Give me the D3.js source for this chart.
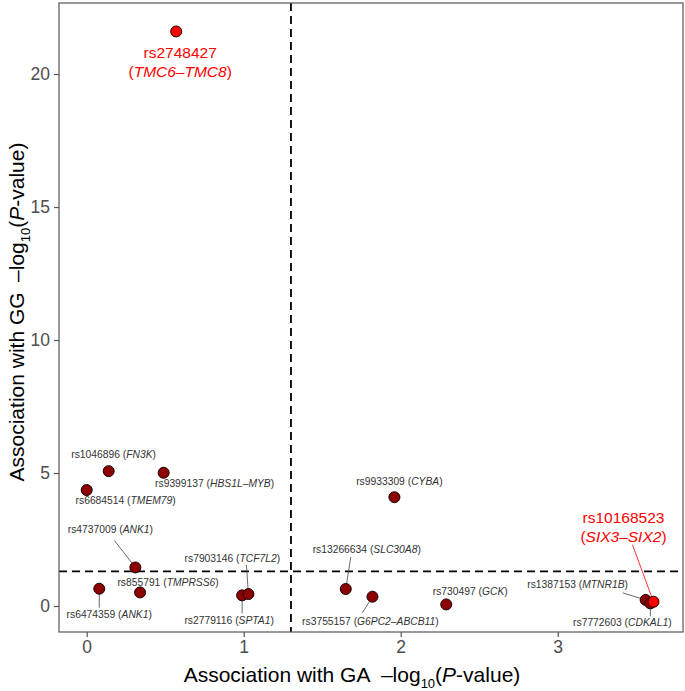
<!DOCTYPE html>
<html>
<head>
<meta charset="utf-8">
<script src="https://cdn.jsdelivr.net/npm/d3@7"></script>
<style>
  html, body { margin: 0; padding: 0; background: #fff; }
  svg { display: block; font-family: "Liberation Sans", Arial, Helvetica, sans-serif; }
</style>
</head>
<body>
<svg id="chart" width="685" height="691"></svg>
<script>
// variant data: -log10(P) for GA (x) and GG (y)
const snps = ['rs2748427', 'rs1046896', 'rs9399137', 'rs6684514', 'rs4737009', 'rs855791',
    'rs6474359', 'rs2779116', 'rs7903146', 'rs13266634', 'rs3755157', 'rs730497',
    'rs9933309', 'rs1387153', 'rs7772603', 'rs10168523'];
const genes = ['TMC6–TMC8', 'FN3K', 'HBS1L–MYB', 'TMEM79', 'ANK1', 'TMPRSS6',
    'ANK1', 'SPTA1', 'TCF7L2', 'SLC30A8', 'G6PC2–ABCB11', 'GCK',
    'CYBA', 'MTNR1B', 'CDKAL1', 'SIX3–SIX2'];
const gaLogP = [0.57, 0.14, 0.49, 0.0, 0.31, 0.34, 0.08, 0.99, 1.03, 1.65, 1.82, 2.29, 1.96, 3.56, 3.59, 3.61];
const ggLogP = [21.6, 5.07, 5.01, 4.36, 1.45, 0.51, 0.65, 0.40, 0.45, 0.64, 0.35, 0.06, 4.09, 0.23, 0.10, 0.16];
const highlighted = ['rs2748427', 'rs10168523'];
const threshold = -Math.log10(0.05);
const xTicks = [0, 1, 2, 3];
const yTicks = [0, 5, 10, 15, 20];

// label placement (pixel offsets from the point): text anchor and segment end
const labelLayout = [
    { dx: 4, dy: 27, sx: null, sy: null },
    { dx: 5, dy: -13, sx: null, sy: null },
    { dx: 51, dy: 14, sx: null, sy: null },
    { dx: 39, dy: 14, sx: null, sy: null },
    { dx: -25, dy: -34, sx: -21, sy: -27 },
    { dx: 28, dy: -6, sx: null, sy: null },
    { dx: 10, dy: 29, sx: 0, sy: 19 },
    { dx: -13, dy: 29, sx: 0, sy: 18 },
    { dx: -16, dy: -32, sx: -2, sy: -29 },
    { dx: 21, dy: -36, sx: 5, sy: -32 },
    { dx: -2, dy: 28, sx: -10, sy: 16 },
    { dx: 24, dy: -9, sx: null, sy: null },
    { dx: 5, dy: -12, sx: null, sy: null },
    { dx: -68, dy: -12, sx: -23, sy: -7 },
    { dx: -28, dy: 23, sx: 0, sy: 13 },
    { dx: -30, dy: -79, sx: -21, sy: -57 }
];

const data = snps.map((s, i) => ({
    snp: s, gene: genes[i], x: gaLogP[i], y: ggLogP[i],
    hi: highlighted.includes(s), lay: labelLayout[i]
}));

const svg = d3.select('#chart');
const panel = { left: 59, right: 683, top: 3, bottom: 632 };

const xScale = d3.scaleLinear().domain([-0.1764, 3.798]).range([panel.left, panel.right]);
const yScale = d3.scaleLinear().domain([-0.977, 22.67]).range([panel.bottom, panel.top]);

const axisColor = '#555';
const red = '#ff0000';

// reference lines
svg.append('line')
    .attr('x1', xScale(threshold)).attr('x2', xScale(threshold))
    .attr('y1', panel.top).attr('y2', panel.bottom)
    .attr('stroke', '#000').attr('stroke-width', 1.8).attr('stroke-dasharray', '8,5');
svg.append('line')
    .attr('x1', panel.left).attr('x2', panel.right)
    .attr('y1', yScale(threshold)).attr('y2', yScale(threshold))
    .attr('stroke', '#000').attr('stroke-width', 1.8).attr('stroke-dasharray', '8,5');

// axes
const xAxis = svg.append('g')
    .attr('transform', `translate(0,${panel.bottom})`)
    .call(d3.axisBottom(xScale).tickValues(xTicks).tickFormat(d3.format('d')).tickSize(5).tickPadding(4));
const yAxis = svg.append('g')
    .attr('transform', `translate(${panel.left},0)`)
    .call(d3.axisLeft(yScale).tickValues(yTicks).tickFormat(d3.format('d')).tickSize(5).tickPadding(4));

[xAxis, yAxis].forEach(a => {
    a.select('.domain').remove();
    a.selectAll('.tick line').attr('stroke', axisColor).attr('stroke-width', 1.2);
    a.selectAll('.tick text')
        .attr('fill', '#4d4d4d')
        .style('font-size', '17.5px')
        .style('font-family', '"Liberation Sans", Arial, sans-serif');
});

// panel border
svg.append('rect')
    .attr('x', panel.left).attr('y', panel.top)
    .attr('width', panel.right - panel.left).attr('height', panel.bottom - panel.top)
    .attr('fill', 'none').attr('stroke', axisColor).attr('stroke-width', 1.2);

// axis titles
function axisTitle(sel, prefix) {
    sel.append('tspan').text(prefix + '\u2002–log');
    sel.append('tspan').attr('dy', 6).style('font-size', '13px').text('10');
    sel.append('tspan').attr('dy', -6).text('(');
    sel.append('tspan').style('font-style', 'italic').text('P');
    sel.append('tspan').text('-value)');
}
svg.append('text')
    .attr('x', 352).attr('y', 682)
    .attr('text-anchor', 'middle').attr('fill', '#000')
    .style('font-size', '21px')
    .call(axisTitle, 'Association with GA');
svg.append('text')
    .attr('transform', 'translate(24,312) rotate(-90)')
    .attr('text-anchor', 'middle').attr('fill', '#000')
    .style('font-size', '21px')
    .call(axisTitle, 'Association with GG');

// label segments
svg.append('g').selectAll('line')
    .data(data.filter(d => d.lay.sx !== null))
    .join('line')
    .attr('x1', d => xScale(d.x)).attr('y1', d => yScale(d.y))
    .attr('x2', d => xScale(d.x) + d.lay.sx).attr('y2', d => yScale(d.y) + d.lay.sy)
    .attr('stroke', d => d.hi ? red : '#444')
    .attr('stroke-width', 0.8);

// points (highlighted drawn last)
svg.append('g').selectAll('circle')
    .data(data.slice().sort((a, b) => a.hi - b.hi))
    .join('circle')
    .attr('cx', d => xScale(d.x)).attr('cy', d => yScale(d.y))
    .attr('r', 5.5)
    .attr('fill', d => d.hi ? red : '#8b0000')
    .attr('stroke', '#1a0000').attr('stroke-width', 1);

// labels
const labels = svg.append('g').selectAll('text')
    .data(data)
    .join('text')
    .attr('text-anchor', 'middle')
    .attr('x', d => xScale(d.x) + d.lay.dx)
    .attr('y', d => yScale(d.y) + d.lay.dy)
    .attr('fill', d => d.hi ? red : '#333')
    .style('font-size', d => d.hi ? '15.5px' : '10.3px');

labels.each(function(d) {
    const t = d3.select(this);
    if (d.hi) {
        t.append('tspan').text(d.snp);
        t.append('tspan').attr('x', xScale(d.x) + d.lay.dx).attr('dy', 19).text('(');
        t.append('tspan').style('font-style', 'italic').text(d.gene);
        t.append('tspan').text(')');
    } else {
        t.append('tspan').text(d.snp + ' (');
        t.append('tspan').style('font-style', 'italic').text(d.gene);
        t.append('tspan').text(')');
    }
});
</script>
</body>
</html>
